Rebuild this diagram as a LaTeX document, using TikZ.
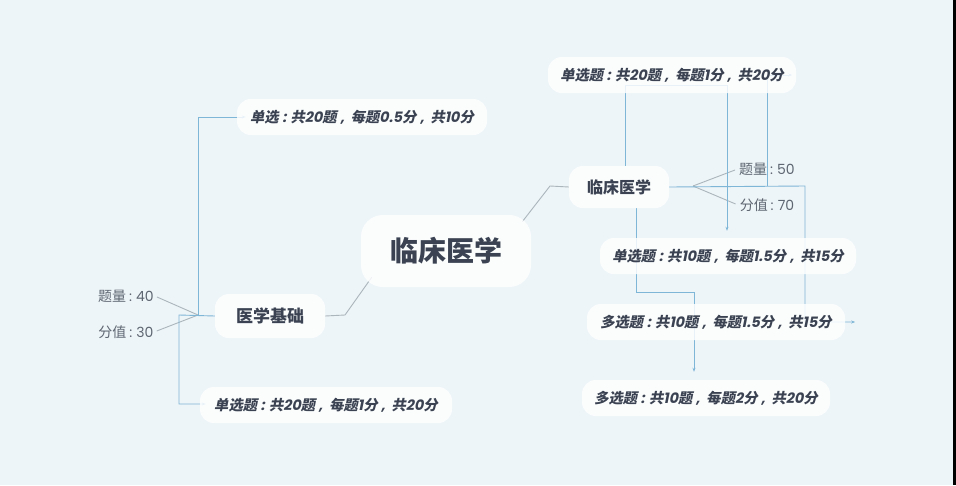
\documentclass[tikz,border=0pt]{standalone}
\usepackage{fontspec}
\setmainfont{Noto Sans CJK SC}
\newfontfamily\cjk{Noto Sans CJK SC}
\newfontfamily\cjksl[FakeSlant=0.2]{Noto Sans CJK SC}
\newfontfamily\lat{Poppins}
\newfontfamily\latsl[FakeSlant=0.2]{Poppins}
\usetikzlibrary{backgrounds,calc,arrows.meta}
\definecolor{bgc}{HTML}{EEF5F8}
\definecolor{txt}{HTML}{3B4352}
\definecolor{lbl}{HTML}{5E6672}
\definecolor{bl}{HTML}{7DB6D6}
\definecolor{gl}{HTML}{AAB5BC}
\newcommand{\leaf}[1]{{\cjksl\bfseries #1}}
\newcommand{\nm}[1]{{\latsl\bfseries #1}}
\newcommand{\cl}{\hspace{0.25em}{\latsl\bfseries :}\hspace{0.3em}}
\newcommand{\cm}{\hspace{0.25em}{\latsl\bfseries ,}\hspace{0.45em}}
\tikzset{
  blob/.style={fill=white, fill opacity=0.82, text opacity=1, rounded corners=14pt, inner sep=0pt, text=txt, font=\cjk\bfseries},
  leafbox/.style={blob, minimum height=36pt, font=\fontsize{14.3}{14.3}\selectfont},
  lab/.style={inner sep=0pt, text=lbl, font=\fontsize{14}{14}\selectfont},
  bline/.style={draw=bl, line width=0.9pt},
  gline/.style={draw=gl, line width=0.9pt},
  arr/.style={-{Stealth[length=4pt,width=3pt]}}
}
\begin{document}
\begin{tikzpicture}[x=1pt,y=-1pt]
\useasboundingbox (0,0) rectangle (956,485);
\begin{scope}[on background layer]
\fill[bgc] (0,0) rectangle (953,485);
\fill[black] (953,0) rectangle (956,485);
\end{scope}
% main nodes
\node[blob, minimum width=170pt, minimum height=72pt, rounded corners=22pt, font=\cjk\bfseries\fontsize{28}{28}\selectfont] (c) at (446,251) {临床医学};
\node[blob, minimum width=110pt, minimum height=44pt, font=\cjk\bfseries\fontsize{17}{17}\selectfont] (yx) at (270,316) {医学基础};
\node[blob, minimum width=100pt, minimum height=42pt, font=\cjk\bfseries\fontsize{16}{16}\selectfont] (lc) at (619,187) {临床医学};
% leaves
\node[leafbox, minimum width=250pt] (l1) at (362,117) {\leaf{单选}\cl\leaf{共}\nm{20}\leaf{题}\cm\leaf{每题}\nm{0.5}\leaf{分}\cm\leaf{共}\nm{10}\leaf{分}};
\node[leafbox, minimum width=252pt] (l2) at (326,405) {\leaf{单选题}\cl\leaf{共}\nm{20}\leaf{题}\cm\leaf{每题}\nm{1}\leaf{分}\cm\leaf{共}\nm{20}\leaf{分}};
\node[leafbox, minimum width=248pt] (r1) at (672,75) {\leaf{单选题}\cl\leaf{共}\nm{20}\leaf{题}\cm\leaf{每题}\nm{1}\leaf{分}\cm\leaf{共}\nm{20}\leaf{分}};
\node[leafbox, minimum width=256pt] (r2) at (728,256) {\leaf{单选题}\cl\leaf{共}\nm{10}\leaf{题}\cm\leaf{每题}\nm{1.5}\leaf{分}\cm\leaf{共}\nm{15}\leaf{分}};
\node[leafbox, minimum width=258pt] (r3) at (716,322) {\leaf{多选题}\cl\leaf{共}\nm{10}\leaf{题}\cm\leaf{每题}\nm{1.5}\leaf{分}\cm\leaf{共}\nm{15}\leaf{分}};
\node[leafbox, minimum width=248pt] (r4) at (706,398) {\leaf{多选题}\cl\leaf{共}\nm{10}\leaf{题}\cm\leaf{每题}\nm{2}\leaf{分}\cm\leaf{共}\nm{20}\leaf{分}};
% labels
\node[lab] (t40) at (126,296) {\cjk 题量\hspace{0.2em}{\lat :}\hspace{0.3em}{\lat 40}};
\node[lab] (f30) at (126,332) {\cjk 分值\hspace{0.2em}{\lat :}\hspace{0.3em}{\lat 30}};
\node[lab] (t50) at (767,169) {\cjk 题量\hspace{0.2em}{\lat :}\hspace{0.3em}{\lat 50}};
\node[lab] (f70) at (767,205) {\cjk 分值\hspace{0.2em}{\lat :}\hspace{0.3em}{\lat 70}};
% junctions
\coordinate (jl) at (198,315);
\coordinate (jr) at (693,186);
\begin{scope}[on background layer]
% gray connectors
\draw[gline] ($(c.south west)+(11,-10)$) -- (345,315) -- (yx.east);
\draw[gline] ($(c.north east)+(-9,7)$) -- (550,186) -- (lc.west);
\draw[gline] (jl) -- ($(t40.east)+(3,1)$);
\draw[gline] (jl) -- ($(f30.east)+(3,-1)$);
\draw[gline] (jr) -- ($(t50.west)+(-4,1)$);
\draw[gline] (jr) -- ($(f70.west)+(-4,-1)$);
% blue connectors left
\draw[bline, arr] (yx.west) -- (179,315) -- (179,404) -- ($(l2.west)+(6,-1)$);
\draw[bline, arr] (jl) -- (198,117) -- ($(l1.west)+(9,0)$);
% blue connectors right
\draw[bline, arr] (lc.east) -- (805,186) -- (805,322) -- ($(r3.east)+(10,0)$);
\draw[bline, arr] (767,186) -- (767,75) -- ($(r1.east)+(-4,0)$);
\draw[bline, arr] ($(lc.north)+(6,0)$) -- (625,85) -- (727,85) -- ($(r2.north)+(-1,-7)$);
\draw[bline, arr] ($(lc.south)+(17,0)$) -- (636,292) -- (694,292) -- ($(r4.north)+(-12,-8)$);
\end{scope}
\end{tikzpicture}
\end{document}
